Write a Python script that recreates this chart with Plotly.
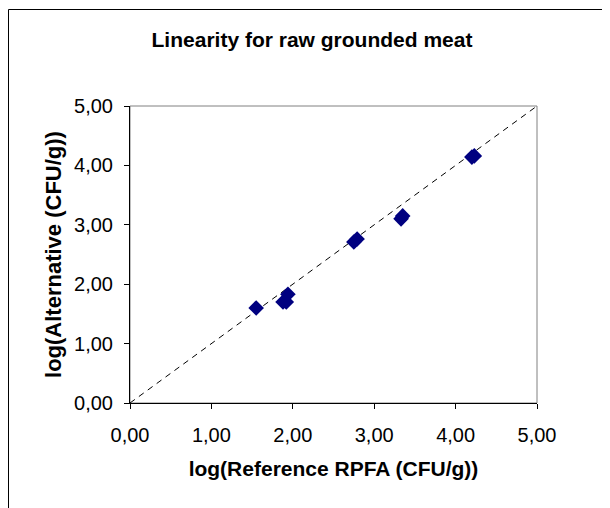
import plotly.graph_objects as go

# Data
ref_rpfa = [1.55, 1.88, 1.94, 1.92, 2.75, 2.79, 3.33, 3.35, 4.20, 4.23]
alternative = [1.60, 1.70, 1.83, 1.70, 2.71, 2.76, 3.10, 3.15, 4.14, 4.16]
diag_x = [0, 5]
diag_y = [0, 5]
tick_vals = [0, 1, 2, 3, 4, 5]

# page has an 8px body margin; figure is sized to fill the rest
OFF = 8
W, H = 610 - OFF, 508 - OFF
L, R, T, B = 130 - OFF, 537 - OFF, 106 - OFF, 403 - OFF
FONT = "Liberation Sans, Arial"

fig = go.Figure()
fig.add_trace(go.Scatter(x=diag_x, y=diag_y, mode="lines",
                         line=dict(color="black", width=1, dash="6px,5px"),
                         hoverinfo="skip", showlegend=False))
fig.add_trace(go.Scatter(x=ref_rpfa, y=alternative, mode="markers",
                         marker=dict(symbol="diamond", size=12, color="#000080",
                                     line=dict(width=0)),
                         showlegend=False))

axis_common = dict(range=[0, 5], tickvals=tick_vals, tickformat=".2f",
                   showgrid=False, zeroline=False, showline=True,
                   linecolor="black", linewidth=1, ticks="outside",
                   ticklen=5, tickcolor="black",
                   tickfont=dict(family=FONT, size=20, color="black"))

fig.update_xaxes(**axis_common, ticklabelstandoff=9,
                 title=dict(text="<b>log(Reference RPFA (CFU/g))</b>",
                            font=dict(family=FONT, size=21, color="black"),
                            standoff=16))
fig.update_yaxes(**axis_common, ticklabelstandoff=7,
                 title=dict(text="<b>log(Alternative (CFU/g))</b>",
                            font=dict(family=FONT, size=22, color="black"),
                            standoff=6))

pw, ph = R - L, B - T
shapes = [
    dict(type="rect", xref="paper", yref="paper", x0=0, y0=0, x1=1, y1=1,
         line=dict(color="#808080", width=1), layer="below"),
    dict(type="rect", xref="paper", yref="paper",
         x0=(0.5 - L) / pw, x1=(W + 10 - L) / pw,
         y0=(B - (H + 10)) / ph, y1=(B - 1.5) / ph,
         line=dict(color="black", width=1)),
]

fig.update_layout(
    width=W, height=H,
    margin=dict(l=L, r=W - R, t=T, b=H - B),
    paper_bgcolor="white", plot_bgcolor="white",
    separators=",.",
    shapes=shapes,
    title=dict(text="<b>Linearity for raw grounded meat</b>",
               font=dict(family=FONT, size=21, color="black"),
               x=(312 - OFF) / W, xanchor="center", y=1 - (40 - OFF) / H, yanchor="middle"),
)

fig.write_html("out.html")
